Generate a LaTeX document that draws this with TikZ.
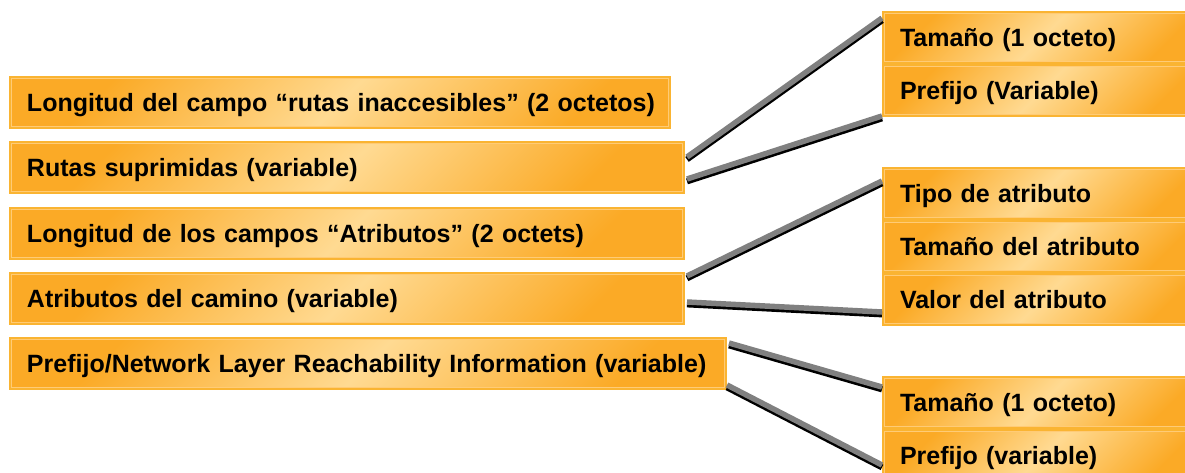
\documentclass[tikz,border=0pt]{standalone}
\usepackage{fontspec}
\setmainfont{Liberation Sans}
\usetikzlibrary{calc}
\definecolor{boxedge}{RGB}{250,180,50}
\definecolor{boxhilite}{RGB}{255,203,118}
\definecolor{boxdark}{RGB}{251,170,38}
\definecolor{boxlight}{RGB}{255,218,146}
\definecolor{linkgray}{RGB}{128,128,128}
\begin{document}
\begin{tikzpicture}[x=1pt,y=-1pt,
  fieldbox/.style={draw=boxedge, line width=2pt,
    top color=boxdark, bottom color=boxdark, middle color=boxlight,
    shading angle=45, anchor=north west,
    inner xsep=17pt, inner ysep=0pt, minimum height=51pt,
    text height=17pt, text depth=0pt, align=left,
    font=\bfseries\fontsize{25}{30}\selectfont,
    path picture={\draw[boxhilite, line width=0.8pt]
      ([shift={(1.8pt,-1.8pt)}]path picture bounding box.north west) rectangle
      ([shift={(-1.8pt,1.8pt)}]path picture bounding box.south east);}},
  leftbox/.style={fieldbox, text width=#1-34pt},
  rightbox/.style={fieldbox, text width=284pt},
  link/.style={draw=linkgray, line width=5.5pt,
    preaction={draw=black, line width=6pt, transform canvas={yshift=-2.4pt}}}
]
\useasboundingbox (0,0) rectangle (1185,472);
\clip (0,0) rectangle (1185,472);

% field list on the left
\node[leftbox=660pt] (l1) at (9,76)  {\mbox{Longitud del campo “rutas inaccesibles” (2 octetos)}};
\node[leftbox=674pt] (l2) at (9,141) {Rutas suprimidas (variable)};
\node[leftbox=674pt] (l3) at (9,207) {Longitud de los campos “Atributos” (2 octets)};
\node[leftbox=674pt] (l4) at (9,272) {Atributos del camino (variable)};
\node[leftbox=716pt] (l5) at (9,337) {\mbox{Prefijo/Network Layer Reachability Information (variable)}};

% sub-fields on the right
\node[rightbox] (r11) at (882,11) {Tamaño (1 octeto)};
\node[rightbox] (r12) at (r11.south west) {Prefijo (Variable)};

\node[rightbox] (r21) at (882,167) {Tipo de atributo};
\node[rightbox] (r22) at (r21.south west) {Tamaño del atributo};
\node[rightbox] (r23) at (r22.south west) {Valor del atributo};

\node[rightbox] (r31) at (882,376) {Tamaño (1 octeto)};
\node[rightbox] (r32) at (r31.south west) {Prefijo (variable)};

% connectors
\draw[link] ($(l2.north east)+(2,16)$)  -- ($(r11.north west)+(0,7)$);
\draw[link] ($(l2.south east)+(2,-15)$) -- ($(r12.south west)+(0,-1)$);
\draw[link] ($(l4.north east)+(2,4)$)   -- ($(r21.north west)+(0,14)$);
\draw[link] ($(l4.south east)+(2,-23)$) -- ($(r23.north west)+(0,39)$);
\draw[link] ($(l5.north east)+(2,6)$)   -- ($(r31.north west)+(0,11)$);
\draw[link] ($(l5.south east)+(0,-5)$)  -- ($(r32.north west)+(0,36)$);
\end{tikzpicture}
\end{document}
